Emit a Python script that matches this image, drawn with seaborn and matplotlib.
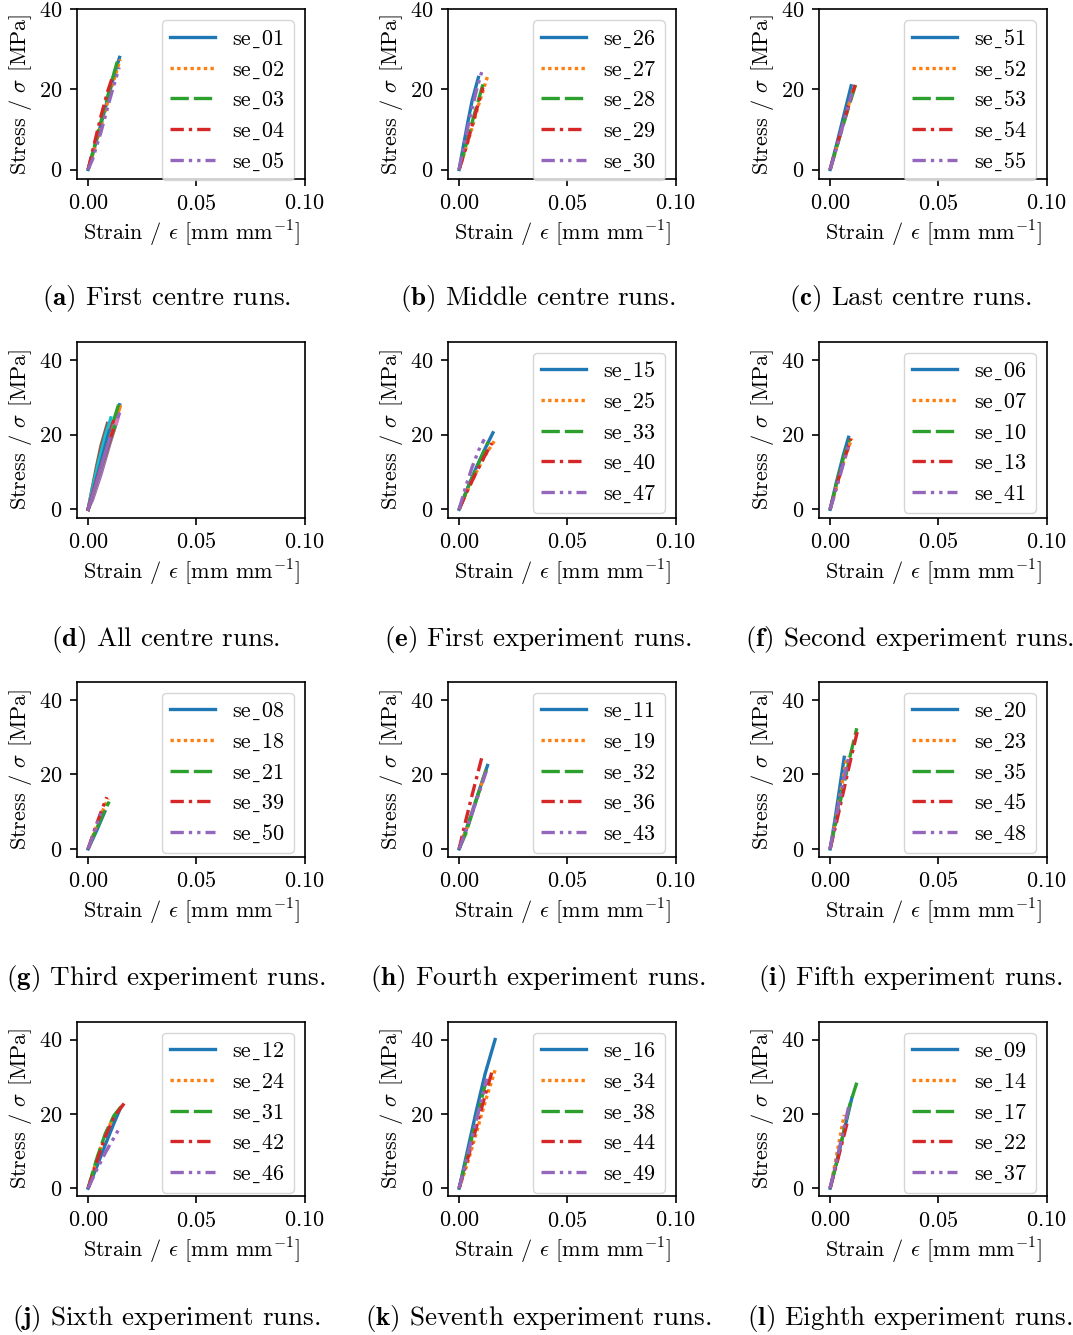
import matplotlib
matplotlib.use("Agg")
import matplotlib.pyplot as plt
import seaborn as sns
import pandas as pd

# ---------------- data ----------------
a_runs = ["se_01", "se_02", "se_03", "se_04", "se_05"]
a_strain = [[0, 0.004, 0.008, 0.012, 0.0145], [0, 0.004, 0.008, 0.012, 0.0148],
            [0, 0.004, 0.008, 0.012, 0.0138], [0, 0.003, 0.006, 0.009, 0.0115],
            [0, 0.002, 0.006, 0.010, 0.0143]]
a_stress = [[0, 7.5, 15.5, 23.5, 28.0], [0, 7.0, 14.8, 22.5, 27.5],
            [0, 8.0, 16.3, 24.2, 27.6], [0, 6.8, 13.5, 19.5, 23.5],
            [0, 2.5, 9.5, 17.5, 25.5]]

b_runs = ["se_26", "se_27", "se_28", "se_29", "se_30"]
b_strain = [[0, 0.002, 0.004, 0.006, 0.0089], [0, 0.003, 0.006, 0.009, 0.0135],
            [0, 0.003, 0.006, 0.009, 0.0116], [0, 0.003, 0.006, 0.009, 0.0110],
            [0, 0.002, 0.005, 0.008, 0.0105]]
b_stress = [[0, 6.0, 11.8, 17.2, 23.0], [0, 5.0, 10.5, 16.2, 23.9],
            [0, 5.8, 11.8, 17.5, 22.4], [0, 5.2, 11.0, 16.8, 20.5],
            [0, 5.5, 13.0, 19.8, 24.5]]

c_runs = ["se_51", "se_52", "se_53", "se_54", "se_55"]
c_strain = [[0, 0.003, 0.006, 0.0097], [0, 0.003, 0.006, 0.0108],
            [0, 0.003, 0.006, 0.009, 0.0123], [0, 0.003, 0.006, 0.009, 0.0115],
            [0, 0.003, 0.006, 0.0100]]
c_stress = [[0, 6.3, 12.8, 20.9], [0, 5.6, 11.4, 20.3],
            [0, 5.5, 11.0, 16.4, 22.1], [0, 5.8, 11.4, 16.8, 21.1],
            [0, 5.4, 11.2, 19.0]]

e_runs = ["se_15", "se_25", "se_33", "se_40", "se_47"]
e_strain = [[0, 0.004, 0.008, 0.012, 0.0156], [0, 0.004, 0.008, 0.012, 0.0170],
            [0, 0.004, 0.008, 0.0135], [0, 0.004, 0.008, 0.012, 0.0151],
            [0, 0.003, 0.006, 0.009, 0.0116]]
e_stress = [[0, 5.8, 11.3, 16.3, 20.5], [0, 5.2, 10.0, 14.4, 19.0],
            [0, 5.8, 11.0, 18.1], [0, 5.2, 10.0, 14.5, 17.7],
            [0, 6.0, 11.3, 15.8, 18.75]]

f_runs = ["se_06", "se_07", "se_10", "se_13", "se_41"]
f_strain = [[0, 0.003, 0.006, 0.0085], [0, 0.003, 0.006, 0.0100],
            [0, 0.003, 0.006, 0.0090], [0, 0.003, 0.006, 0.0096],
            [0, 0.003, 0.006, 0.0085]]
f_stress = [[0, 7.5, 14.3, 19.3], [0, 6.2, 12.3, 19.0],
            [0, 7.0, 13.5, 18.7], [0, 6.3, 12.4, 18.9],
            [0, 5.8, 12.0, 17.3]]

g_runs = ["se_08", "se_18", "se_21", "se_39", "se_50"]
g_strain = [[0, 0.004, 0.0077], [0, 0.003, 0.006, 0.0092],
            [0, 0.003, 0.006, 0.0097], [0, 0.003, 0.006, 0.0086],
            [0, 0.003, 0.0059]]
g_stress = [[0, 5.0, 10.0], [0, 4.8, 9.2, 13.6],
            [0, 4.2, 8.2, 12.7], [0, 5.2, 10.0, 13.9],
            [0, 4.8, 9.6]]

h_runs = ["se_11", "se_19", "se_32", "se_36", "se_43"]
h_strain = [[0, 0.004, 0.008, 0.0131], [0, 0.004, 0.008, 0.0127],
            [0, 0.003, 0.006, 0.009, 0.011, 0.0125], [0, 0.003, 0.006, 0.0105],
            [0, 0.004, 0.008, 0.0125]]
h_stress = [[0, 6.5, 13.5, 22.4], [0, 6.3, 13.2, 21.7],
            [0, 4.0, 9.5, 15.0, 18.7, 21.2], [0, 7.5, 14.5, 24.6],
            [0, 6.2, 13.0, 20.8]]

i_runs = ["se_20", "se_23", "se_35", "se_45", "se_48"]
i_strain = [[0, 0.002, 0.004, 0.0065], [0, 0.002, 0.005, 0.0077],
            [0, 0.003, 0.006, 0.009, 0.0123], [0, 0.003, 0.006, 0.009, 0.0128],
            [0, 0.002, 0.005, 0.0085]]
i_stress = [[0, 7.0, 14.8, 24.6], [0, 6.0, 15.8, 24.8],
            [0, 8.2, 16.2, 24.4, 32.4], [0, 7.3, 15.0, 22.8, 32.1],
            [0, 6.5, 14.8, 24.6]]

j_runs = ["se_12", "se_24", "se_31", "se_42", "se_46"]
j_strain = [[0, 0.004, 0.008, 0.012, 0.0145], [0, 0.004, 0.008, 0.012, 0.0166],
            [0, 0.004, 0.008, 0.012, 0.0151], [0, 0.004, 0.008, 0.012, 0.0166],
            [0, 0.004, 0.008, 0.0139]]
j_stress = [[0, 5.8, 11.8, 17.6, 21.0], [0, 7.8, 14.6, 19.5, 22.8],
            [0, 8.0, 14.8, 19.6, 21.9], [0, 7.2, 14.0, 19.2, 22.8],
            [0, 5.0, 9.6, 15.6]]

k_runs = ["se_16", "se_34", "se_38", "se_44", "se_49"]
k_strain = [[0, 0.004, 0.008, 0.012, 0.0166], [0, 0.004, 0.008, 0.012, 0.0166],
            [0, 0.004, 0.008, 0.0125], [0, 0.004, 0.008, 0.012, 0.0156],
            [0, 0.004, 0.008, 0.0127]]
k_stress = [[0, 10.5, 21.0, 30.8, 40.0], [0, 7.0, 15.0, 23.2, 31.8],
            [0, 9.2, 18.6, 29.0], [0, 8.0, 16.5, 25.0, 32.2],
            [0, 9.0, 18.4, 29.5]]

l_runs = ["se_09", "se_14", "se_17", "se_22", "se_37"]
l_strain = [[0, 0.003, 0.006, 0.0100], [0, 0.002, 0.004, 0.0065],
            [0, 0.003, 0.006, 0.009, 0.0123], [0, 0.003, 0.006, 0.0080],
            [0, 0.003, 0.006, 0.0085]]
l_stress = [[0, 7.0, 14.4, 24.2], [0, 5.8, 12.0, 19.7],
            [0, 6.8, 14.5, 22.3, 28.4], [0, 6.5, 13.3, 17.9],
            [0, 7.5, 15.3, 21.8]]

captions = ["First centre runs.", "Middle centre runs.", "Last centre runs.",
            "All centre runs.", "First experiment runs.", "Second experiment runs.",
            "Third experiment runs.", "Fourth experiment runs.", "Fifth experiment runs.",
            "Sixth experiment runs.", "Seventh experiment runs.", "Eighth experiment runs."]
letters = ["a", "b", "c", "d", "e", "f", "g", "h", "i", "j", "k", "l"]
x_ticks = [0.0, 0.05, 0.10]
y_ticks = [0, 20, 40]

# ---------------- style ----------------
plt.rcParams.update({
    "font.family": ["cmr10", "DejaVu Serif"],
    "mathtext.fontset": "cm",
    "axes.formatter.use_mathtext": True,
    "axes.unicode_minus": False,
    "font.size": 16,
    "axes.linewidth": 1.2,
    "xtick.major.size": 5.25, "ytick.major.size": 5.25,
    "xtick.major.width": 1.2, "ytick.major.width": 1.2,
    "xtick.major.pad": 5.25, "ytick.major.pad": 5.25,
    "lines.linewidth": 2.4,
    "legend.fontsize": 16,
})

W, H = 1073, 1335
fig = plt.figure(figsize=(W / 100, H / 100), dpi=100)

col_left = [77.3, 448.3, 819.3]
ax_w = 227.5
rows = [(9.3, 179.0), (341.7, 517.7), (681.7, 856.7), (1021.7, 1196.0)]
ylims = [(-2.37, 40), (-2.25, 44.9), (-2.1, 44.9), (-2.1, 44.8)]
cap_x = [166, 538, 910]
cap_base = [305.5, 645.5, 985.5, 1325.0]

pal5 = sns.color_palette("tab10", 5)
dash_list = ["", (1, 1), (5.5, 1.5), (4, 1.5, 1, 1.5), (4, 1.5, 1, 1.5, 1, 1.5)]


def make_df(runs, strains, stresses):
    recs = []
    for r, xs, ys in zip(runs, strains, stresses):
        for k, (x, y) in enumerate(zip(xs, ys)):
            recs.append({"run": r, "strain": x, "stress": y, "order": k})
    return pd.DataFrame(recs)


def show_label(name):
    # cmr10 has no underscore glyph; use a low line that falls back to DejaVu Serif
    return name.replace("_", "\u02cd")


panels = [
    (a_runs, a_strain, a_stress), (b_runs, b_strain, b_stress), (c_runs, c_strain, c_stress),
    None,
    (e_runs, e_strain, e_stress), (f_runs, f_strain, f_stress),
    (g_runs, g_strain, g_stress), (h_runs, h_strain, h_stress), (i_runs, i_strain, i_stress),
    (j_runs, j_strain, j_stress), (k_runs, k_strain, k_stress), (l_runs, l_strain, l_stress),
]

for idx in range(12):
    r, c = divmod(idx, 3)
    top, bot = rows[r]
    rect = [col_left[c] / W, 1 - bot / H, ax_w / W, (bot - top) / H]
    ax = fig.add_axes(rect)

    if idx == 3:
        df = make_df(a_runs + b_runs + c_runs, a_strain + b_strain + c_strain,
                     a_stress + b_stress + c_stress)
        order = a_runs + b_runs + c_runs
        pal = [sns.color_palette("tab10", 10)[k % 10] for k in range(15)]
        sns.lineplot(data=df, x="strain", y="stress", hue="run", hue_order=order,
                     palette=pal, sort=False, estimator=None, ax=ax,
                     linewidth=2.4, legend=False)
    else:
        runs, st, ss = panels[idx]
        df = make_df(runs, st, ss)
        sns.lineplot(data=df, x="strain", y="stress", hue="run", style="run",
                     hue_order=runs, style_order=runs, palette=pal5, dashes=dash_list,
                     sort=False, estimator=None, ax=ax, linewidth=2.4)
        leg = ax.get_legend()
        handles = leg.legend_handles
        labels = [show_label(t.get_text()) for t in leg.get_texts()]
        for hnd in handles:
            hnd.set_linewidth(2.4)
        ax.legend(handles, labels, loc="upper right")

    ax.set_xlim(-0.005, 0.10)
    ax.set_ylim(*ylims[r])
    ax.set_xticks(x_ticks)
    ax.set_yticks(y_ticks)
    ax.set_xlabel(r"Strain / $\epsilon$ [mm mm$^{-1}$]")
    ax.set_ylabel(r"Stress / $\sigma$ [MPa]")

    fig.text(cap_x[c] / W, 1 - cap_base[r] / H,
             r"$\mathbf{(" + letters[idx] + r")}$ " + captions[idx],
             ha="center", va="baseline", fontsize=19.5)

fig.savefig("out.png", dpi=100)
